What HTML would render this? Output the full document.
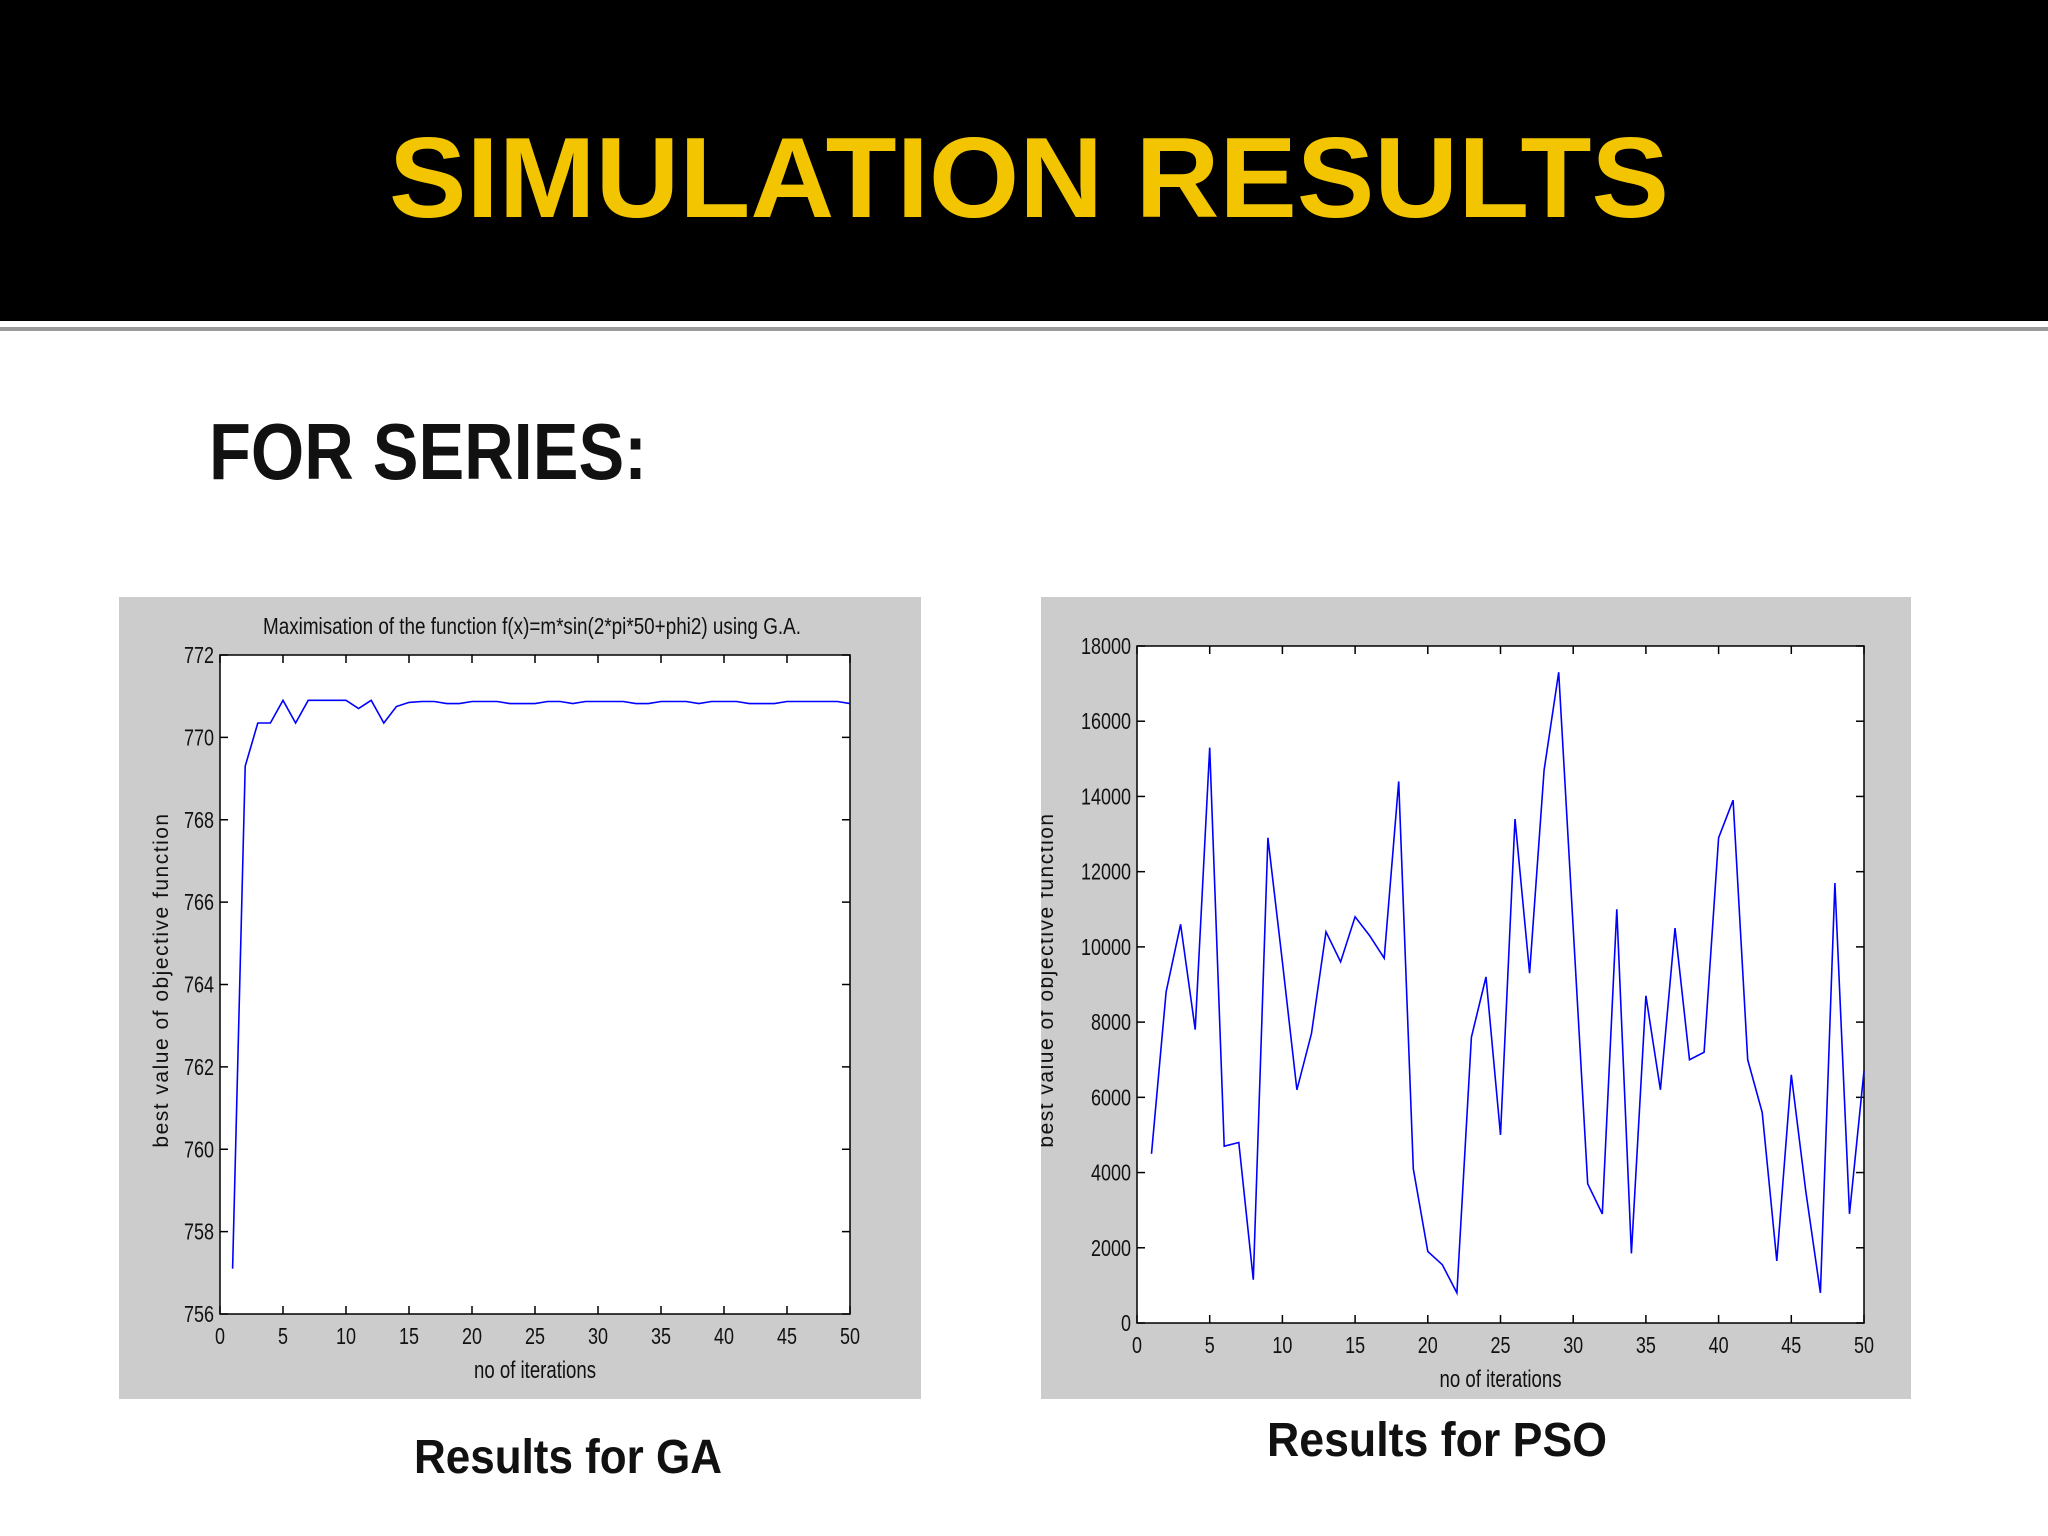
<!DOCTYPE html>
<html><head><meta charset="utf-8"><style>
html,body{margin:0;padding:0;background:#fff;}
svg{display:block;}
text{font-family:"Liberation Sans",sans-serif;}
</style></head><body>
<svg id="s" width="2048" height="1536" viewBox="0 0 2048 1536">
<rect x="0" y="0" width="2048" height="1536" fill="#ffffff"/>
<rect x="0" y="0" width="2048" height="321" fill="#000"/>
<rect x="0" y="327" width="2048" height="4" fill="#9a9a9a"/>
<text x="1029" y="217" text-anchor="middle" font-size="114" font-weight="bold" fill="#f2c500" textLength="1280" lengthAdjust="spacingAndGlyphs">SIMULATION RESULTS</text>
<text x="209" y="479" font-size="80" font-weight="bold" fill="#111" textLength="438" lengthAdjust="spacingAndGlyphs">FOR SERIES:</text>

<rect x="119" y="597" width="802" height="802" fill="#cccccc"/>
<rect x="1041" y="597" width="870" height="802" fill="#cccccc"/>
<g id="ga"></g>
<g id="pso"></g>
<text x="568" y="1473" text-anchor="middle" font-size="48" font-weight="bold" fill="#111" textLength="308" lengthAdjust="spacingAndGlyphs">Results for GA</text>
<text x="1437" y="1456" text-anchor="middle" font-size="48" font-weight="bold" fill="#111" textLength="340" lengthAdjust="spacingAndGlyphs">Results for PSO</text>
</svg>
<script>
const gaX=[1,2,3,4,5,6,7,8,9,10,11,12,13,14,15,16,17,18,19,20,21,22,23,24,25,26,27,28,29,30,31,32,33,34,35,36,37,38,39,40,41,42,43,44,45,46,47,48,49,50];
const gaY=[757.1,769.3,770.35,770.35,770.9,770.35,770.9,770.9,770.9,770.9,770.7,770.9,770.35,770.75,770.85,770.87,770.87,770.82,770.82,770.87,770.87,770.87,770.82,770.82,770.82,770.87,770.87,770.82,770.87,770.87,770.87,770.87,770.82,770.82,770.87,770.87,770.87,770.82,770.87,770.87,770.87,770.82,770.82,770.82,770.87,770.87,770.87,770.87,770.87,770.82];
const gaYTicks=[756,758,760,762,764,766,768,770,772];
const gaXTicks=[0,5,10,15,20,25,30,35,40,45,50];
const psoX=[1,2,3,4,5,6,7,8,9,10,11,12,13,14,15,16,17,18,19,20,21,22,23,24,25,26,27,28,29,30,31,32,33,34,35,36,37,38,39,40,41,42,43,44,45,46,47,48,49,50];
const psoY=[4500,8800,10600,7800,15300,4700,4800,1150,12900,9600,6200,7700,10400,9600,10800,10300,9700,14400,4100,1900,1550,800,7600,9200,5000,13400,9300,14700,17300,10500,3700,2900,11000,1850,8700,6200,10500,7000,7200,12900,13900,7000,5600,1650,6600,3500,800,11700,2900,6700];
const psoYTicks=[0,2000,4000,6000,8000,10000,12000,14000,16000,18000];
const psoXTicks=[0,5,10,15,20,25,30,35,40,45,50];
const NS='http://www.w3.org/2000/svg';
function mk(p,tag,a){const e=document.createElementNS(NS,tag);for(const k in a)e.setAttribute(k,a[k]);p.appendChild(e);return e;}
function chart(g,o){
  const sx=v=>o.l+(v-o.x0)/(o.x1-o.x0)*(o.r-o.l);
  const sy=v=>o.b-(v-o.y0)/(o.y1-o.y0)*(o.b-o.t);
  const bg=mk(g,'rect',{x:o.l,y:o.t,width:o.r-o.l,height:o.b-o.t,fill:'#fff',stroke:'#000','stroke-width':1.5});
  
  
  o.yt.forEach(v=>{const y=sy(v);
    mk(g,'line',{x1:o.l,x2:o.l+8,y1:y,y2:y,stroke:'#000','stroke-width':1.5});
    mk(g,'line',{x1:o.r-8,x2:o.r,y1:y,y2:y,stroke:'#000','stroke-width':1.5});
    const s=String(v);
    const t=mk(g,'text',{x:o.l-6,y:y+8,'text-anchor':'end','font-size':23,fill:'#111',textLength:s.length*10,lengthAdjust:'spacingAndGlyphs'});t.textContent=s;
    
    
  });
  o.xt.forEach(v=>{const x=sx(v);
    mk(g,'line',{x1:x,x2:x,y1:o.b,y2:o.b-8,stroke:'#000','stroke-width':1.5});
    mk(g,'line',{x1:x,x2:x,y1:o.t,y2:o.t+8,stroke:'#000','stroke-width':1.5});
    const s=String(v);
    const t=mk(g,'text',{x:x,y:o.b+30,'text-anchor':'middle','font-size':23,fill:'#111',textLength:s.length*10,lengthAdjust:'spacingAndGlyphs'});t.textContent=s;
    
    
  });
  const pts=o.xs.map((x,i)=>sx(x).toFixed(1)+','+sy(o.ys[i]).toFixed(1)).join(' ');
  const pl=mk(g,'polyline',{points:pts,fill:'none',stroke:'#0000ff','stroke-width':1.6});
  
  
  const xl=mk(g,'text',{x:(o.l+o.r)/2,y:o.xly,'text-anchor':'middle','font-size':24,fill:'#111',textLength:122,lengthAdjust:'spacingAndGlyphs'});xl.textContent='no of iterations';
  
  
  const yl=mk(g,'text',{x:0,y:0,'text-anchor':'middle','font-size':21,fill:'#111','letter-spacing':'1.5',transform:'translate('+o.ylx+','+o.yly+') rotate(-90)'});yl.textContent='best value of objective function';
  
  
}
chart(document.getElementById('ga'),{n:'ga',l:220,r:850,t:655,b:1314,x0:0,x1:50,y0:756,y1:772,xs:gaX,ys:gaY,yt:gaYTicks,xt:gaXTicks,xly:1378,ylx:168,yly:980});
const tt=mk(document.getElementById('ga'),'text',{x:532,y:634,'text-anchor':'middle','font-size':23,fill:'#111',textLength:538,lengthAdjust:'spacingAndGlyphs'});
tt.textContent='Maximisation of the function f(x)=m*sin(2*pi*50+phi2) using G.A.';


const pg=document.getElementById('pso');
const cp=mk(pg,'clipPath',{id:'pc'});mk(cp,'rect',{x:1041,y:597,width:870,height:802});
const pin=mk(pg,'g',{'clip-path':'url(#pc)'});
chart(pin,{n:'pso',l:1137,r:1864,t:646,b:1323,x0:0,x1:50,y0:0,y1:18000,xs:psoX,ys:psoY,yt:psoYTicks,xt:psoXTicks,xly:1387,ylx:1053,yly:980});
</script>
</body></html>
